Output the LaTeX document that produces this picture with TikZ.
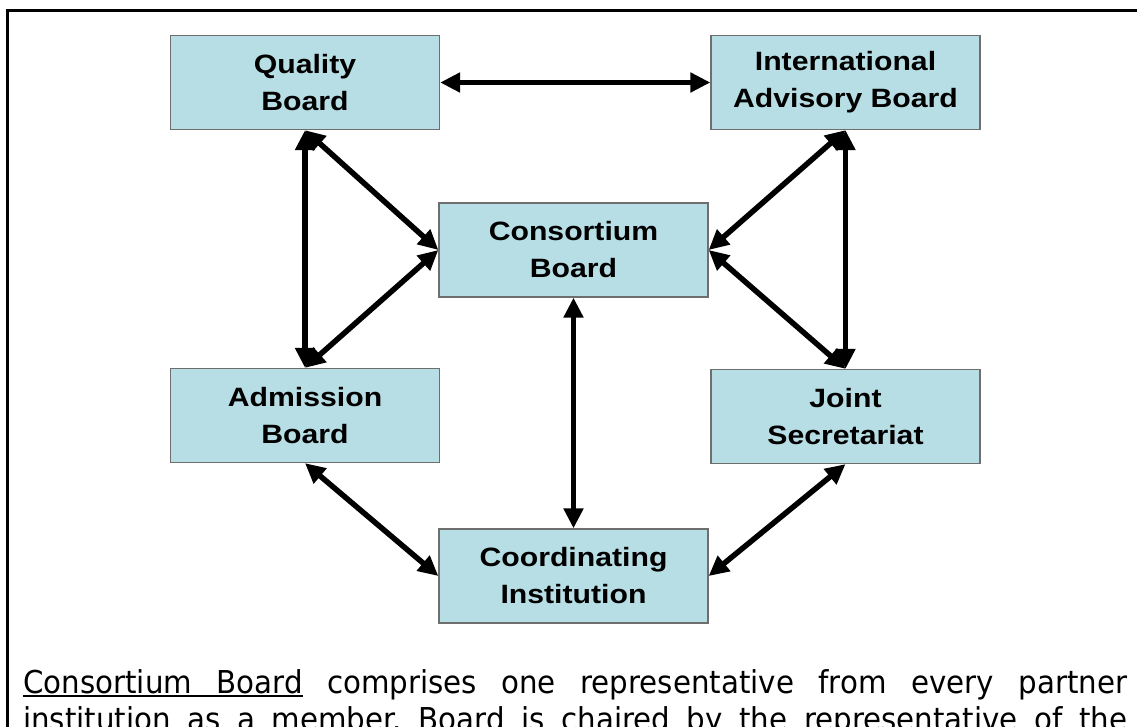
\documentclass[tikz,border=0pt]{standalone}
\usepackage{fontspec}
\setmainfont{Liberation Sans}
\newfontfamily\boxfont[FakeStretch=1.14]{Liberation Sans}
\newfontfamily\notefont[FakeStretch=0.93]{DejaVu Sans}
\usetikzlibrary{arrows.meta}

\definecolor{boxfill}{RGB}{183,222,229}
\definecolor{boxline}{RGB}{110,110,110}

% underlined word and an underlined, stretchable interword gap
\newlength\ulwd
\newcommand\ulword[1]{\settowidth\ulwd{#1}\rlap{\rule[-4pt]{\ulwd}{2pt}}#1}
\newcommand\ulgap{\leaders\hrule height -2pt depth 4pt\hskip\fontdimen2\font plus\fontdimen3\font\relax}

\begin{document}
\begin{tikzpicture}[x=1pt,y=-1pt,
  board/.style={draw=boxline, line width=1.3pt, fill=boxfill,
    minimum width=269pt, minimum height=94pt, inner sep=0pt, align=center,
    font=\boxfont\bfseries\fontsize{26.5}{37}\selectfont},
  link/.style={line width=5.5pt, >={Triangle[length=20pt,width=19pt]}, <->},
  note/.style={anchor=base west, inner sep=0pt,
    font=\notefont\fontsize{31.5}{36}\selectfont}]
\useasboundingbox (0,0) rectangle (1137,726);
\clip (0,0) rectangle (1137,726);

% page frame
\draw[line width=2.7pt] (7.3,760) rectangle (1160,10.7);

% boards
\node[board] (qb)  at (305,82.5)   {Quality\\Board};
\node[board] (iab) at (845.5,82.5) {International\\Advisory Board};
\node[board] (cb)  at (573.5,250)  {Consortium\\Board};
\node[board] (ab)  at (305,415.5)  {Admission\\Board};
\node[board] (js)  at (845.5,416.5) {Joint\\Secretariat};
\node[board] (ci)  at (573.5,576)  {Coordinating\\Institution};

% two-way links
\draw[link] (qb) -- (iab);
\draw[link] (qb.south) -- (ab.north);
\draw[link] (qb.south) -- (cb.west);
\draw[link] (ab.north) -- (cb.west);
\draw[link] (iab.south) -- (cb.east);
\draw[link] (js.north) -- (cb.east);
\draw[link] (iab.south) -- (js.north);
\draw[link] (cb.south) -- (ci.north);
\draw[link] (ab.south) -- (ci.west);
\draw[link] (js.south) -- (ci.east);

% explanatory paragraph
\node[note] (l1) at (23,693) {\frenchspacing\makebox[1104pt][s]{\ulword{Consortium}\ulgap\ulword{Board} comprises one representative from every partner}};
\node[note] (l2) at (23,730) {\frenchspacing\makebox[1104pt][s]{institution as a member. Board is chaired by the representative of the}};
\end{tikzpicture}
\end{document}
